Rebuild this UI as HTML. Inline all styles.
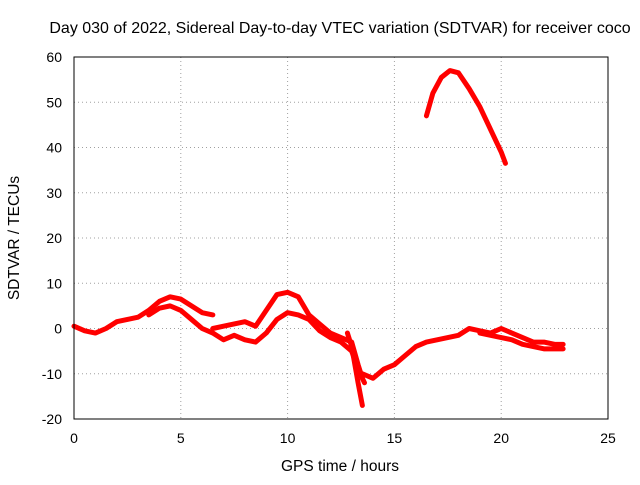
<!DOCTYPE html>
<html><head><meta charset="utf-8"><style>
body{margin:0;background:#fff;}
svg text{font-family:"Liberation Sans",sans-serif;font-size:14px;fill:#000;}
</style></head><body>
<svg id="chart" width="640" height="480" xmlns="http://www.w3.org/2000/svg">
<text x="340" y="33" text-anchor="middle" style="font-size:16px">Day 030 of 2022, Sidereal Day-to-day VTEC variation (SDTVAR) for receiver coco</text>
<text x="340" y="471" text-anchor="middle" style="font-size:15.5px">GPS time / hours</text>
<text transform="translate(19,238) rotate(-90)" text-anchor="middle" style="font-size:15.5px">SDTVAR / TECUs</text>
<g id="grid"></g><g id="ticks"></g><g id="series"></g>
<rect x="74" y="57" width="534" height="362" fill="none" stroke="#000"/>
</svg>
<script>
const xTicks=[0,5,10,15,20,25];
const yTicks=[-20,-10,0,10,20,30,40,50,60];
const track1=[[0,0.5],[0.5,-0.5],[1,-1],[1.5,0],[2,1.5],[2.5,2],[3,2.5],[3.5,4],[4,6],[4.5,7],[5,6.5],[5.5,5],[6,3.5],[6.5,3]];
const track2=[[3.5,3],[4,4.5],[4.5,5],[5,4],[5.5,2],[6,0],[6.5,-1],[7,-2.5],[7.5,-1.5],[8,-2.5],[8.5,-3],[9,-1],[9.5,2],[10,3.5],[10.5,3],[11,2],[11.5,-0.5],[12,-2],[12.5,-3],[13,-5],[13.3,-9],[13.6,-12]];
const track3=[[6.5,0],[7,0.5],[7.5,1],[8,1.5],[8.5,0.5],[9,4],[9.5,7.5],[10,8],[10.5,7],[11,3],[11.5,1],[12,-1],[12.5,-2],[13,-3],[13.3,-8],[13.5,-11]];
const track4=[[12.8,-1],[13,-4],[13.3,-12],[13.5,-17]];
const track5=[[13.5,-10],[14,-11],[14.5,-9],[15,-8],[15.5,-6],[16,-4],[16.5,-3],[17,-2.5],[17.5,-2],[18,-1.5],[18.5,0],[19,-0.5],[19.5,-1],[20,0],[20.5,-1],[21,-2],[21.5,-3],[22,-3],[22.5,-3.5],[22.9,-3.5]];
const track6=[[19,-1],[19.5,-1.5],[20,-2],[20.5,-2.5],[21,-3.5],[21.5,-4],[22,-4.5],[22.9,-4.5]];
const track7=[[16.5,47],[16.8,52],[17.2,55.5],[17.6,57],[18,56.5],[18.5,53],[19,49],[19.5,44],[20,39],[20.2,36.5]];
const tracks=[track1,track2,track3,track4,track5,track6,track7];
const X=v=>74+(v-0)/25*534, Y=v=>419-(v+20)/80*362;
const NS="http://www.w3.org/2000/svg";
const grid=document.getElementById('grid'),ticks=document.getElementById('ticks'),ser=document.getElementById('series');
function mk(tag,at,p){const e=document.createElementNS(NS,tag);for(const k in at)e.setAttribute(k,at[k]);p.appendChild(e);return e;}
xTicks.forEach(t=>{const x=X(t);
 if(t>0&&t<25){const g=mk('line',{x1:x,x2:x,y1:57,y2:419,stroke:'#a0a0a0','stroke-dasharray':'1,3'},grid);
 
 }
 const tl=mk('text',{x:x,y:443,'text-anchor':'middle'},ticks);tl.textContent=t;
 
 });
yTicks.forEach(t=>{const y=Y(t);
 if(t>-20&&t<60){const g=mk('line',{x1:74,x2:608,y1:y,y2:y,stroke:'#a0a0a0','stroke-dasharray':'1,3'},grid);
 
 }
 const tl=mk('text',{x:62,y:y+5,'text-anchor':'end'},ticks);tl.textContent=t;
 
 });
tracks.forEach((tr,i)=>{
 const p=mk('polyline',{points:tr.map(d=>X(d[0])+','+Y(d[1])).join(' '),fill:'none',stroke:'#ff0000','stroke-width':5,'stroke-linejoin':'round','stroke-linecap':'round'},ser);
 
 
});
</script>
</body></html>
